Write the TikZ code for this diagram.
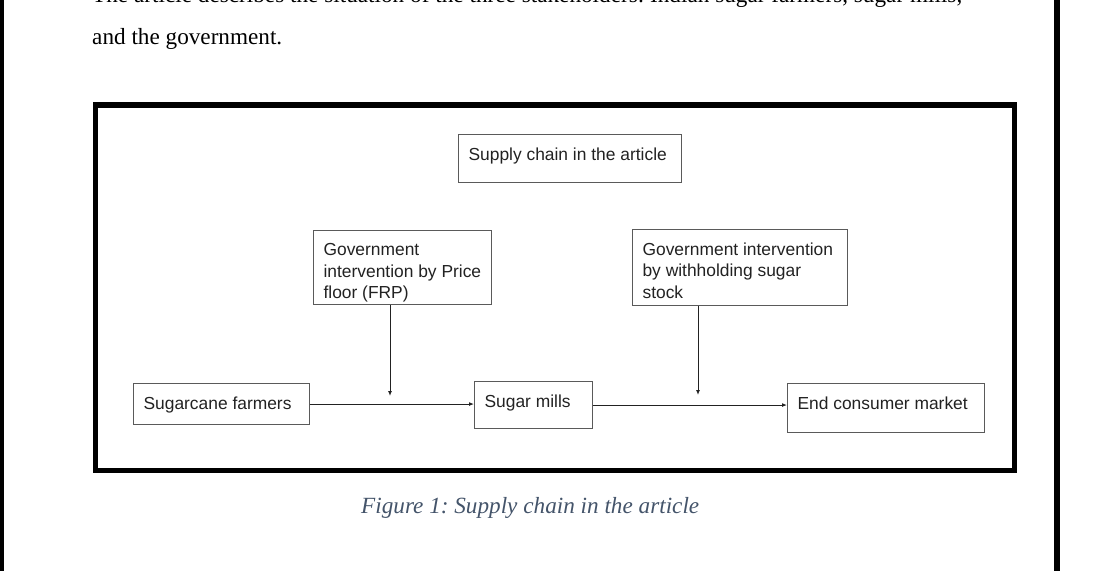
\documentclass[tikz,border=0pt]{standalone}
\usepackage{fontspec}
\setmainfont{Liberation Serif}
\newfontfamily\arialfont{Liberation Sans}
\usetikzlibrary{arrows.meta}
\definecolor{capblue}{HTML}{44546A}
\definecolor{boxline}{HTML}{5A5A5A}
\definecolor{txtgray}{HTML}{222222}
\frenchspacing
\newcommand{\boxcontent}[4]{\parbox[t][#2][t]{#1}{\raggedright\rule{0pt}{#3}#4}}
\tikzset{
  chartbox/.style={draw=boxline, line width=1.1bp, anchor=north west,
    inner xsep=10bp, inner ysep=0bp,
    font=\arialfont\fontsize{17.4bp}{21.5bp}\selectfont, text=txtgray},
  flow/.style={draw=txtgray, line width=1bp, -{Latex[length=5bp,width=4bp]}},
  bodytext/.style={anchor=base west, inner sep=0pt, font=\fontsize{23.2bp}{28bp}\selectfont},
}
\begin{document}
\begin{tikzpicture}[x=1bp,y=-1bp]
\useasboundingbox (0,0) rectangle (1099,571);
% page edges
\fill (0,0) rectangle (4,571);
\fill (1054,0) rectangle (1060,571);
% body text
\node[bodytext] (line1) at (92,3) {\makebox[870bp][s]{The article describes the situation of the three stakeholders: Indian sugar farmers, sugar mills,}};
\node[bodytext] (line2) at (92,45) {and the government.};
% figure frame
\draw[line width=5.5bp] (95.3,105) rectangle (1014.5,470.5);
% boxes
\node[chartbox] (supply) at (458,134) {\boxcontent{203bp}{48bp}{25.5bp}{Supply chain in the article}};
\node[chartbox] (gov1) at (313,230) {\boxcontent{158bp}{74bp}{25bp}{Government\\intervention by Price\\floor (FRP)}};
\node[chartbox] (gov2) at (632,229) {\boxcontent{195bp}{76bp}{25.5bp}{Government intervention\\by withholding sugar\\stock}};
\node[chartbox] (farm) at (133,383) {\boxcontent{156bp}{41bp}{25.5bp}{Sugarcane farmers}};
\node[chartbox] (mills) at (474,381) {\boxcontent{98bp}{47bp}{25.5bp}{Sugar mills}};
\node[chartbox] (end) at (787,383) {\boxcontent{177bp}{49bp}{26bp}{End consumer market}};
% connectors
\coordinate (j1) at (390,396);
\coordinate (j2) at (698,395);
\draw[flow] (farm.east) -- (farm.east -| mills.west);
\draw[flow] (mills.east) -- (mills.east -| end.west);
\draw[flow] (gov1.south -| j1) -- (j1);
\draw[flow] (gov2.south -| j2) -- (j2);
% caption
\node[anchor=base west, inner sep=0pt, font=\itshape\fontsize{23.2bp}{28bp}\selectfont, text=capblue] (cap) at (361,513) {Figure 1: Supply chain in the article};
\end{tikzpicture}
\end{document}
